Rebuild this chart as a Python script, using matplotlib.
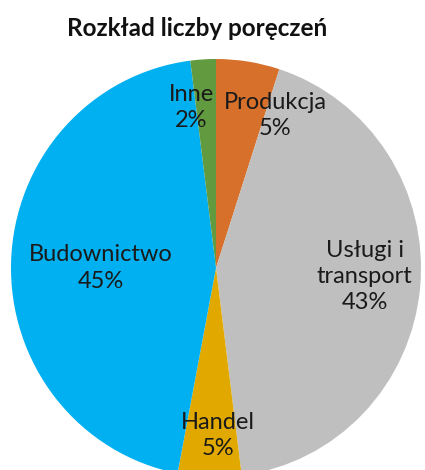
import matplotlib.pyplot as plt

# dane z wykresu (kolejnosc zgodnie z ruchem wskazowek zegara od godziny 12)
categories = ['Produkcja', 'Usługi i\ntransport', 'Handel', 'Budownictwo', 'Inne']
shares = [5, 43, 5, 45, 2]
colors = ['#D6702B', '#BFBFBF', '#E1A900', '#00B0F0', '#629A40']

# polozenie etykiet w jednostkach promienia (jak w excelu "najlepsze dopasowanie")
label_pos = [(0.29, 0.73), (0.725, -0.04), (0.01, -0.80), (-0.56, 0.0), (-0.12, 0.77)]

plt.rcParams['font.family'] = ['Lato', 'DejaVu Sans']

fig = plt.figure(figsize=(4.25, 4.70), dpi=100)
fig.text(0.464, 0.94, 'Rozkład liczby poręczeń', ha='center', va='center',
         fontsize=17.5, fontweight='bold', color='#111111')

# srodek kola ok. (216, 268) px, kolo lekko rozciagniete w pionie i uciete na dole
cx, cy, rx, ry = 216, 268, 205, 209
ax = fig.add_axes([(cx - rx) / 425, (470 - cy - ry) / 470, 2 * rx / 425, 2 * ry / 470])
wedges, _ = ax.pie(shares, colors=colors, startangle=90, counterclock=False,
                   radius=1, wedgeprops=dict(linewidth=0))
ax.set_aspect('auto')
ax.set_xlim(-1, 1)
ax.set_ylim(-1, 1)
ax.axis('off')

for name, val, (x, y) in zip(categories, shares, label_pos):
    ax.text(x, y, f'{name}\n{val}%', ha='center', va='center', fontsize=17,
            color='#1a1a1a', linespacing=1.3)

fig.savefig('out.png', dpi=100)
